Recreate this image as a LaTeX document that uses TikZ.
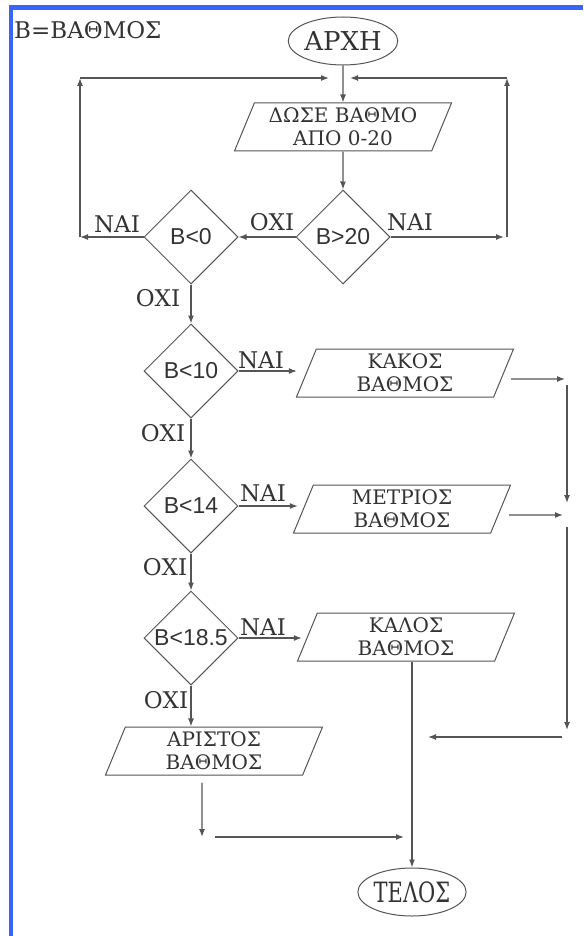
\documentclass[tikz,border=0pt]{standalone}
\usepackage{fontspec}
\newfontfamily\serf{DejaVu Serif}
\newfontfamily\serfc[FakeStretch=0.75]{DejaVu Serif}
\newfontfamily\sansf{Liberation Sans}
\usetikzlibrary{shapes.geometric,arrows.meta}
\definecolor{ln}{HTML}{555555}
\definecolor{tx}{HTML}{333333}
\definecolor{bord}{HTML}{3A66F5}
\begin{document}
\begin{tikzpicture}[x=1pt,y=-1pt,
  every node/.style={text=tx},
  flow/.style={draw=ln,line width=1.3pt,-{Latex[length=8pt,width=6pt]}},
  dec/.style={diamond,draw=ln,line width=1pt,minimum width=94pt,minimum height=94pt,inner sep=0pt,font=\sansf\fontsize{23}{24}\selectfont},
  io/.style={trapezium,trapezium left angle=62.5,trapezium right angle=117.5,trapezium stretches body,draw=ln,line width=1pt,minimum width=217pt,minimum height=48pt,inner sep=0pt,align=center,font=\serf\fontsize{20}{23}\selectfont},
  term/.style={ellipse,draw=ln,line width=1pt,minimum width=96pt,minimum height=48pt,inner sep=0pt},
  lab/.style={font=\serf\fontsize{23}{24}\selectfont,inner sep=0pt}]
\useasboundingbox (0,0) rectangle (583,936);
\fill[bord] (9,5.5) rectangle (12.5,936);
\fill[bord] (9,5.5) rectangle (583,10);
\node[anchor=west,inner sep=0pt,font=\serf\fontsize{23}{24}\selectfont] (title) at (14,30) {B=ΒΑΘΜΟΣ};
% nodes
\node[term,font=\serf\fontsize{26}{28}\selectfont] (start) at (343,41) {ΑΡΧΗ};
\node[io] (p1) at (343,127) {ΔΩΣΕ ΒΑΘΜΟ\\ΑΠΟ 0-20};
\node[dec] (d1) at (343,237) {B>20};
\node[dec] (d0) at (191,237) {B<0};
\node[dec] (d2) at (191,371) {B<10};
\node[dec] (d3) at (191,506) {B<14};
\node[dec] (d4) at (191,638) {B<18.5};
\node[io] (p2) at (405,373) {ΚΑΚΟΣ\\ΒΑΘΜΟΣ};
\node[io] (p3) at (402,509) {ΜΕΤΡΙΟΣ\\ΒΑΘΜΟΣ};
\node[io] (p4) at (406,637) {ΚΑΛΟΣ\\ΒΑΘΜΟΣ};
\node[io] (p5) at (214,751) {ΑΡΙΣΤΟΣ\\ΒΑΘΜΟΣ};
\node[term,font=\serfc\fontsize{28}{28}\selectfont] (end) at (412,892) {ΤΕΛΟΣ};
% labels
\node[lab] (n0) at (117,224) {ΝΑΙ};
\node[lab] (o1) at (272,222) {ΟΧΙ};
\node[lab] (n1) at (410,222) {ΝΑΙ};
\node[lab] (o0) at (158,298) {ΟΧΙ};
\node[lab] (n2) at (261,360) {ΝΑΙ};
\node[lab] (o2) at (163,433) {ΟΧΙ};
\node[lab] (n3) at (263,493) {ΝΑΙ};
\node[lab] (o3) at (165,567) {ΟΧΙ};
\node[lab] (n4) at (263,627) {ΝΑΙ};
\node[lab] (o4) at (166,700) {ΟΧΙ};
% coordinates
\coordinate (L) at (80,237);
\coordinate (Lt) at (80,78);
\coordinate (Ltip) at (329,78);
\coordinate (R) at (507,237);
\coordinate (Rt) at (507,78);
\coordinate (Rtip) at (350,78);
\coordinate (c1) at (567,379);
\coordinate (c2) at (567,515);
\coordinate (c3) at (567,737);
\coordinate (k3) at (428,737);
\coordinate (a5) at (202,837);
\coordinate (b5) at (215,837);
\coordinate (b6) at (404,837);
% connectors
\draw[flow] (start.south) -- (p1.north);
\draw[flow] (p1.south) -- (d1.north);
\draw[flow] (d1.east) -- ([xshift=-3pt]R);
\draw[flow] (R) -- (Rt);
\draw[flow] (Rt) -- (Rtip);
\draw[flow] (d1.west) -- (d0.east);
\draw[flow] (d0.west) -- (L);
\draw[flow] (L) -- (Lt);
\draw[flow] (Lt) -- (Ltip);
\draw[flow] (d0.south) -- (d2.north);
\draw[flow] (d2.south) -- (d3.north);
\draw[flow] (d3.south) -- (d4.north);
\draw[flow] (d4.south) -- (d4.south |- p5.north);
\draw[flow] (d2.east) -- ([xshift=-9pt]d2.east -| p2.west);
\draw[flow] (d3.east) -- ([xshift=-5pt]d3.east -| p3.west);
\draw[flow] (d4.east) -- ([xshift=-5pt]d4.east -| p4.west);
\draw[flow] ([xshift=7pt,yshift=-6pt]p2.east) -- ([xshift=-2pt]c1);
\draw[flow] ([yshift=-6pt]c1) -- ([yshift=12pt]c2);
\draw[flow] ([xshift=8pt,yshift=-6pt]p3.east) -- ([xshift=-4pt]c2);
\draw[flow] ([yshift=-12pt]c2) -- ([yshift=7pt]c3);
\draw[flow] ([xshift=-5pt]c3) -- (k3);
\draw[flow] (p4.south -| end.north) -- (end.north);
\draw[flow] ([xshift=-12pt,yshift=-7pt]p5.south) -- (a5);
\draw[flow] (b5) -- (b6);
\end{tikzpicture}
\end{document}
